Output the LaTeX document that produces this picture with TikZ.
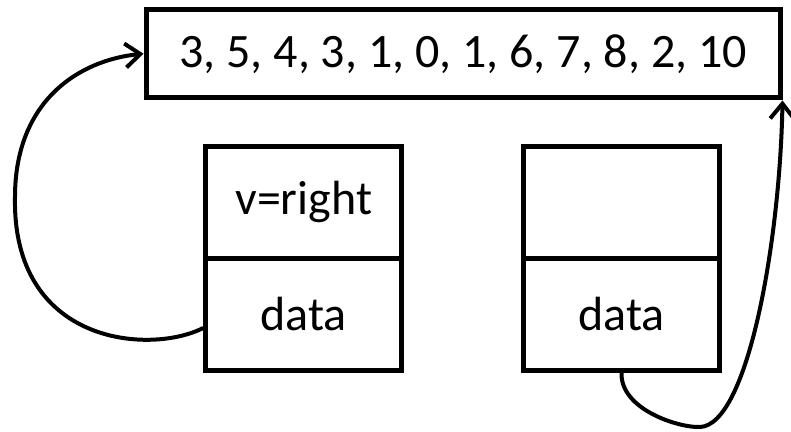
\documentclass[tikz,border=0pt]{standalone}
\usepackage{fontspec}
\setmainfont{Carlito}
\usetikzlibrary{arrows.meta}
\begin{document}
\begin{tikzpicture}[x=1pt,y=-1pt,
  box/.style={draw, line width=5pt, rectangle, inner sep=0pt, font=\fontsize{48}{56}\selectfont},
  cell/.style={box, minimum width=196pt, minimum height=112pt},
  link/.style={line width=4pt, -{Straight Barb[length=15pt,width=24pt,line width=4pt]}}]
\useasboundingbox (0,0) rectangle (791,431);
\node[box, minimum width=634pt, minimum height=88.5pt] (top) at (463,53.7) {3, 5, 4, 3, 1, 0, 1, 6, 7, 8, 2, 10};
\node[cell] (lv) at (303.7,202) {v=right};
\node[cell] (ldata) at (303.7,314) {data};
\node[cell] (rv) at (621.5,202) {};
\node[cell] (rdata) at (621.5,314) {};
\node[font=\fontsize{48}{56}\selectfont] (rtext) at (621.5,314) {data};
\coordinate (lstart) at ([yshift=-14pt]ldata.west);
\coordinate (lmid) at (15,197);
\coordinate (rmid) at (700,427);
\draw[link] (lstart) .. controls (150,355) and (12,345) .. (lmid)
  .. controls (15,100) and (80,60) .. (top.west);
\draw[link] (rdata.south) .. controls (620,410) and (680,428) .. (rmid)
  .. controls (748,425) and (780,240) .. (top.south east);
\end{tikzpicture}
\end{document}
